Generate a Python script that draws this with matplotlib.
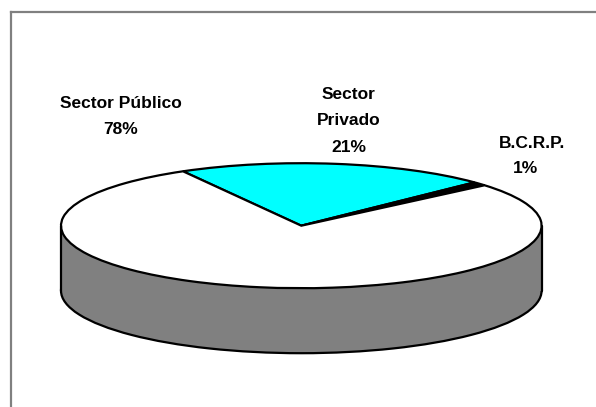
import matplotlib
matplotlib.use("Agg")
import matplotlib.pyplot as plt
from matplotlib.lines import Line2D
from matplotlib.patches import Rectangle

sectors = ["Sector\nPrivado", "B.C.R.P.", "Sector Público"]
shares = [21, 1, 78]
colors = ["#00ffff", "#000000", "#ffffff"]

W, H = 596, 407
plt.rcParams["font.family"] = ["Liberation Sans", "DejaVu Sans"]
fig = plt.figure(figsize=(W / 100, H / 100), dpi=100, facecolor="white")

# pie is squashed into an ellipse, x radius 240px, y radius 62.5px
rx, ry = 240.3, 62.5
cx, cy = 301.3, 225.7
depth = 65 / ry
ax = fig.add_axes([(cx - rx) / W, 1 - (cy + ry) / H, 2 * rx / W, 2 * ry / H])

# side wall first, then the top
ax.pie([1], colors=["#808080"], center=(0, -depth), radius=1,
       wedgeprops=dict(edgecolor="black", linewidth=1.6), normalize=True)
ax.add_patch(Rectangle((-1, -depth), 2, depth, fc="#808080", ec="none"))
ax.plot([-1, -1], [-depth, 0], color="black", lw=1.6, solid_capstyle="round")
ax.plot([1, 1], [-depth, 0], color="black", lw=1.6, solid_capstyle="round")
ax.pie(shares, colors=colors, startangle=119.5, counterclock=False, radius=1,
       wedgeprops=dict(edgecolor="black", linewidth=1.6))
ax.set_aspect("auto")
ax.set_xlim(-1, 1)
ax.set_ylim(-1, 1)
for a in ax.patches + ax.lines:
    a.set_clip_on(False)

# labels sit at pixel spots, name and percent apart since they don't line up
name_spots = [(349, 107.5), (532, 143), (120.5, 103)]
pct_spots = [(349, 147), (526, 169), (121, 129)]
for name, val, n, p in zip(sectors, shares, name_spots, pct_spots):
    fig.text(n[0] / W, 1 - n[1] / H, name, ha="center", va="center",
             fontsize=12.5, fontweight="bold", color="black", linespacing=1.9)
    fig.text(p[0] / W, 1 - p[1] / H, f"{val}%", ha="center", va="center",
             fontsize=12.5, fontweight="bold", color="black")

# frame: only top and left show
fig.add_artist(Line2D([11.3 / W, 11.3 / W], [0, 1 - 11.5 / H], color="#808080", lw=1.6))
fig.add_artist(Line2D([11.3 / W, 1], [1 - 11.5 / H, 1 - 11.5 / H], color="#808080", lw=1.6))

fig.savefig("out.png", dpi=100)
